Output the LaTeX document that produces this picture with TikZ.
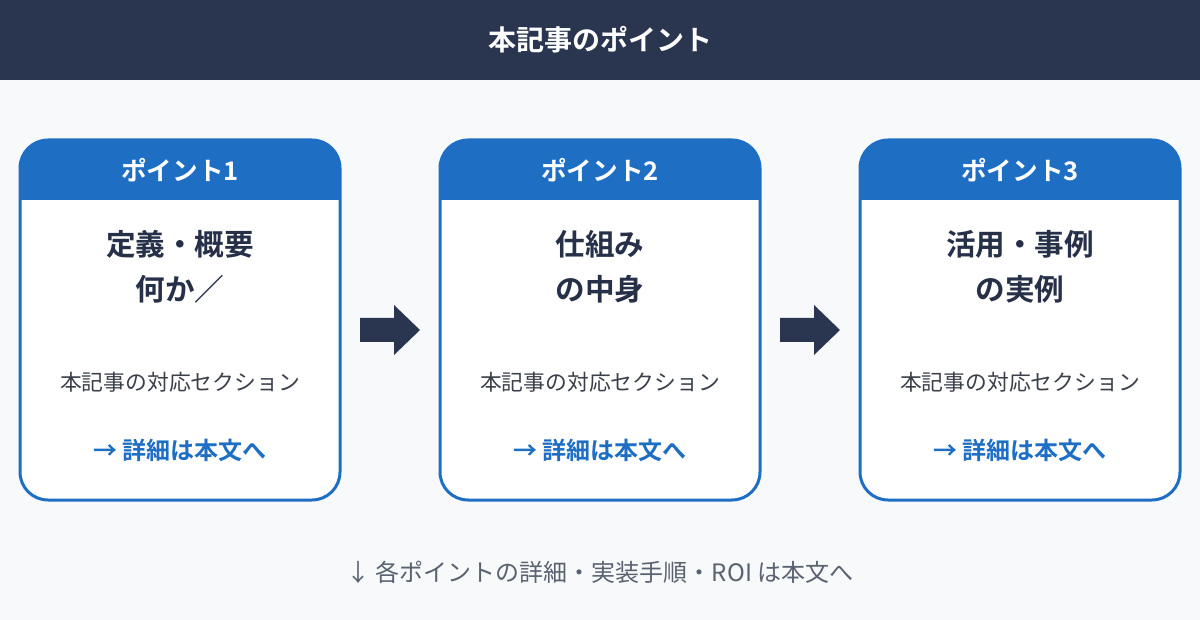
\documentclass[tikz,border=0pt]{standalone}
\usepackage{fontspec}
\setmainfont{Noto Sans CJK JP}
\newfontfamily\jpb{Noto Sans CJK JP Bold}
\definecolor{navy}{HTML}{2A3550}
\definecolor{bg}{HTML}{F7F9FB}
\definecolor{cblue}{HTML}{1E6EC4}
\definecolor{gtext}{HTML}{3A3F4A}
\definecolor{ftext}{HTML}{5A6270}
\begin{document}
\begin{tikzpicture}[x=0.5pt,y=-0.5pt,
  cardtitle/.style={text=white,font=\fontsize{12.8}{15}\selectfont\jpb},
  mainlbl/.style={text=navy!90!black,font=\fontsize{14.8}{22.5}\selectfont\jpb,align=center},
  sec/.style={text=gtext,font=\fontsize{10.9}{12}\selectfont},
  link/.style={text=cblue,font=\fontsize{12}{14}\selectfont\jpb},
  blk/.style={fill=navy}]
\useasboundingbox (0,0) rectangle (1200,620);
\fill[bg] (0,0) rectangle (1200,620);
\fill[navy] (0,0) rectangle (1200,80);
\node[text=white,font=\fontsize{14}{16}\selectfont\jpb] (title) at (600,40) {本記事のポイント};
\foreach \i/\x/\t in {1/20/{定義・概要\\何か／},2/440/{仕組み\\の中身},3/860/{活用・事例\\の実例}}{
  \begin{scope}
    \path[clip,rounded corners=14] (\x,140) rectangle ++(320,360);
    \fill[white] (\x,140) rectangle ++(320,360);
    \fill[cblue] (\x,140) rectangle ++(320,60);
  \end{scope}
  \draw[cblue,line width=1.5pt,rounded corners=14] (\x,140) rectangle ++(320,360);
  \node[cardtitle] (h\i) at (\x+160,170) {ポイント\i};
  \node[mainlbl] (m\i) at (\x+160,267) {\t};
  \node[sec] (s\i) at (\x+160,382) {本記事の対応セクション};
  \node[link] (l\i) at (\x+160,450) {→ 詳細は本文へ};
}
\foreach \x in {360,780}{
  \fill[blk] (\x,318) -- (\x+34,318) -- (\x+34,305) -- (\x+60,330) -- (\x+34,355) -- (\x+34,342) -- (\x,342) -- cycle;
}
\node[text=ftext,font=\fontsize{12}{14}\selectfont] (foot) at (600,572) {↓ 各ポイントの詳細・実装手順・ROI は本文へ};
\end{tikzpicture}
\end{document}
